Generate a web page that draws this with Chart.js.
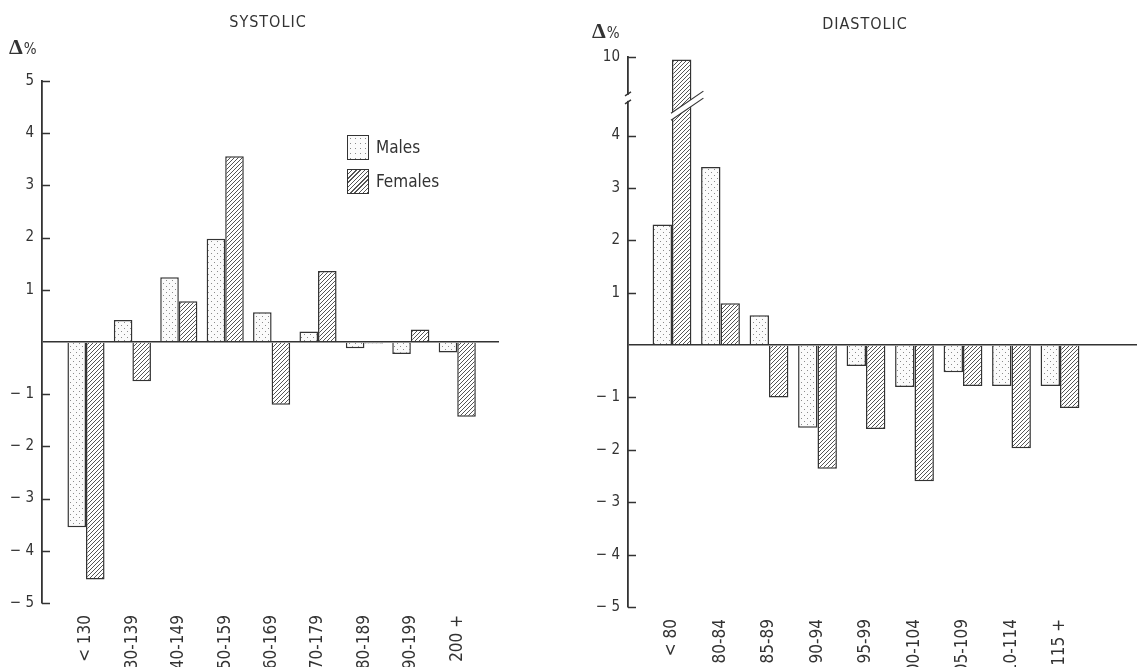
<!DOCTYPE html>
<html>
<head>
<meta charset="utf-8">
<script src="https://cdn.jsdelivr.net/npm/chart.js@4.4.1/dist/chart.umd.min.js"></script>
<style>
    body { margin: 0; background: #fff; width: 1137px; height: 667px; overflow: hidden; position: relative;
           font-family: 'Liberation Sans Narrow', 'DejaVu Sans Condensed', 'Liberation Sans', sans-serif; color: #333; }
    #sysChart { position: absolute; left: 0; top: 0; }
    #diaChart { position: absolute; left: 575px; top: 0; }
    .title { position: absolute; font-size: 16px; letter-spacing: 1px; transform: translateX(-50%); }
    .unit { position: absolute; }
    .unit .d { font-family: 'Liberation Serif', 'DejaVu Serif', serif; font-size: 22px; font-weight: bold; }
    .unit .p { font-size: 15px; margin-left: 1px; }
    .legend { position: absolute; left: 347px; top: 134px; font-size: 17px; }
    .legend div { display: flex; align-items: center; height: 26px; margin-bottom: 8px; }
    .sw { width: 20px; height: 23px; border: 1.5px solid #333; margin-right: 7px; }
    .sw.m { background: radial-gradient(circle, #8a8a8a 0.7px, transparent 1px) 0 0 / 5px 5px, #fbfbfb; }
    .sw.f { background: repeating-linear-gradient(-45deg, #555 0 1px, #fff 1px 3px); }
</style>
</head>
<body>
<canvas id="sysChart" width="575" height="667"></canvas>
<canvas id="diaChart" width="562" height="667"></canvas>

<div class="title" style="left:268px; top:12px;">SYSTOLIC</div>
<div class="title" style="left:865px; top:14px;">DIASTOLIC</div>
<div class="unit" style="left:9px; top:34px;"><span class="d">Δ</span><span class="p">%</span></div>
<div class="unit" style="left:592px; top:18px;"><span class="d">Δ</span><span class="p">%</span></div>

<div class="legend">
    <div><span class="sw m"></span>Males</div>
    <div><span class="sw f"></span>Females</div>
</div>

<script>
// Systolic blood pressure groups
const sysLabels = ['< 130', '130-139', '140-149', '150-159', '160-169', '170-179', '180-189', '190-199', '200 +'];
const sysMales = [-3.55, 0.42, 1.24, 1.98, 0.57, 0.2, -0.12, -0.23, -0.2];
const sysFemales = [-4.55, -0.75, 0.78, 3.56, -1.2, 1.36, -0.03, 0.24, -1.43];
const sysTicks = [-5, -4, -3, -2, -1, 0, 1, 2, 3, 4, 5];

// Diastolic blood pressure groups
const diaLabels = ['< 80', '80-84', '85-89', '90-94', '95-99', '100-104', '105-109', '110-114', '115 +'];
const diaMales = [2.3, 3.4, 0.57, -1.58, -0.4, -0.8, -0.52, -0.78, -0.78];
const diaFemales = [9.7, 0.8, -1.0, -2.36, -1.6, -2.6, -0.78, -1.97, -1.2];
const diaTicks = [-5, -4, -3, -2, -1, 0, 1, 2, 3, 4, 10];

// broken axis on the diastolic chart: everything above BREAK_AT is squeezed
const BREAK_AT = 4.65, TOP_SHOWN = 5.5, TOP_REAL = 10;
function brk(v) {
    return v <= BREAK_AT ? v : BREAK_AT + (v - BREAK_AT) * (TOP_SHOWN - BREAK_AT) / (TOP_REAL - BREAK_AT);
}

const FONT = "'Liberation Sans Narrow', 'DejaVu Sans Condensed', 'Liberation Sans', sans-serif";
const INK = '#333';

function dotPattern() {
    const c = document.createElement('canvas');
    c.width = 6; c.height = 6;
    const g = c.getContext('2d');
    g.fillStyle = '#fbfbfb';
    g.fillRect(0, 0, 6, 6);
    g.fillStyle = '#8c8c8c';
    g.fillRect(1, 1, 1, 1);
    g.fillRect(4, 4, 1, 1);
    return g.createPattern(c, 'repeat');
}

function hatchPattern() {
    const s = 4;
    const c = document.createElement('canvas');
    c.width = s; c.height = s;
    const g = c.getContext('2d');
    g.fillStyle = '#fff';
    g.fillRect(0, 0, s, s);
    g.strokeStyle = '#555';
    g.lineWidth = 1;
    g.beginPath();
    g.moveTo(0, s); g.lineTo(s, 0);
    g.moveTo(-1, 1); g.lineTo(1, -1);
    g.moveTo(s - 1, s + 1); g.lineTo(s + 1, s - 1);
    g.stroke();
    return g.createPattern(c, 'repeat');
}

function fmtTick(v) {
    if (v === 0) return '';
    return v < 0 ? '\u2212 ' + (-v) : String(v);
}

// short tick marks on the inside of the y axis
const innerTicks = {
    id: 'innerTicks',
    afterDraw(chart) {
        const y = chart.scales.y, ctx = chart.ctx, x0 = chart.chartArea.left;
        ctx.save();
        ctx.strokeStyle = INK;
        ctx.lineWidth = 1.5;
        y.ticks.forEach(t => {
            if (t.value === 0) return;
            const py = Math.round(y.getPixelForValue(t.value)) + 0.5;
            ctx.beginPath();
            ctx.moveTo(x0, py);
            ctx.lineTo(x0 + 8, py);
            ctx.stroke();
        });
        ctx.restore();
    }
};

// break marks on the axis and on the tall female bar
const breakMarks = {
    id: 'breakMarks',
    afterDraw(chart) {
        const ctx = chart.ctx, y = chart.scales.y, ax = chart.chartArea.left;
        const ya = y.getPixelForValue(4.72), yb = y.getPixelForValue(4.5);
        ctx.save();
        ctx.fillStyle = '#fff';
        ctx.fillRect(ax - 3, ya - 3, 6, 6);
        ctx.strokeStyle = INK;
        ctx.lineWidth = 1.3;
        [ya - 4, ya + 4].forEach(yy => {
            ctx.beginPath();
            ctx.moveTo(ax - 3, yy + 2);
            ctx.lineTo(ax + 3, yy - 2);
            ctx.stroke();
        });

        const bar = chart.getDatasetMeta(1).data[0];
        const l = bar.x - bar.width / 2 - 1, r = bar.x + bar.width / 2 + 12, k = 0.68, h = 7;
        const yAt = (x, off) => yb - (x - bar.x) * k + off;
        ctx.beginPath();
        ctx.moveTo(l, yAt(l, -h / 2));
        ctx.lineTo(r, yAt(r, -h / 2));
        ctx.lineTo(r, yAt(r, h / 2));
        ctx.lineTo(l, yAt(l, h / 2));
        ctx.closePath();
        ctx.fill();
        ctx.lineWidth = 1.2;
        [-h / 2, h / 2].forEach(off => {
            ctx.beginPath();
            ctx.moveTo(l, yAt(l, off));
            ctx.lineTo(r, yAt(r, off));
            ctx.stroke();
        });
        ctx.restore();
    }
};

function makeChart(id, cfg) {
    const ctx = document.getElementById(id).getContext('2d');
    const toPts = arr => arr.map((v, i) => ({ x: i + 1, y: cfg.map ? cfg.map(v) : v }));
    return new Chart(ctx, {
        type: 'bar',
        data: {
            datasets: [{
                label: 'Males',
                data: toPts(cfg.males),
                backgroundColor: dotPattern(),
                borderColor: INK,
                borderWidth: 1.5
            }, {
                label: 'Females',
                data: toPts(cfg.females),
                backgroundColor: hatchPattern(),
                borderColor: INK,
                borderWidth: 1.5
            }]
        },
        options: {
            responsive: false,
            animation: false,
            layout: { padding: cfg.padding },
            categoryPercentage: 0.8,
            barPercentage: 1,
            plugins: { legend: { display: false }, tooltip: { enabled: false } },
            scales: {
                x: {
                    type: 'linear',
                    offset: false,
                    min: cfg.xMin,
                    max: cfg.xMax,
                    afterBuildTicks: s => { s.ticks = cfg.labels.map((l, i) => ({ value: i + 1 })); },
                    afterFit: s => { s.height = cfg.xHeight; },
                    grid: { display: false, offset: false },
                    border: { display: false },
                    ticks: {
                        autoSkip: false,
                        minRotation: 90,
                        maxRotation: 90,
                        padding: 4,
                        color: '#333',
                        font: { family: FONT, size: 17 },
                        callback: v => cfg.labels[v - 1] ?? ''
                    }
                },
                y: {
                    min: -5,
                    max: cfg.yMax,
                    afterBuildTicks: s => { s.ticks = cfg.ticks.map(v => ({ value: cfg.map ? cfg.map(v) : v })); },
                    afterFit: s => { s.width = cfg.yWidth; },
                    grid: {
                        z: 1,
                        drawTicks: false,
                        lineWidth: 1.4,
                        color: c => (c.tick && c.tick.value === 0) ? INK : 'rgba(0,0,0,0)'
                    },
                    border: { display: true, z: 1, color: INK, width: 1.8 },
                    ticks: {
                        padding: 8,
                        color: '#333',
                        font: { family: FONT, size: 15 },
                        callback: (v, i) => fmtTick(cfg.ticks[i])
                    }
                }
            }
        },
        plugins: cfg.plugins
    });
}

document.addEventListener('DOMContentLoaded', () => {
    makeChart('sysChart', {
        labels: sysLabels, males: sysMales, females: sysFemales, ticks: sysTicks,
        yMax: 5, xMin: 0.052, xMax: 9.9,
        padding: { top: 81, right: 76, left: 0, bottom: 0 },
        yWidth: 42, xHeight: 64,
        plugins: [innerTicks]
    });

    makeChart('diaChart', {
        labels: diaLabels, males: diaMales, females: diaFemales, ticks: diaTicks,
        map: brk,
        yMax: TOP_SHOWN, xMin: 0.093, xMax: 10.588,
        padding: { top: 57, right: 0, left: 0, bottom: 0 },
        yWidth: 53, xHeight: 60,
        plugins: [innerTicks, breakMarks]
    });
});
</script>
</body>
</html>
